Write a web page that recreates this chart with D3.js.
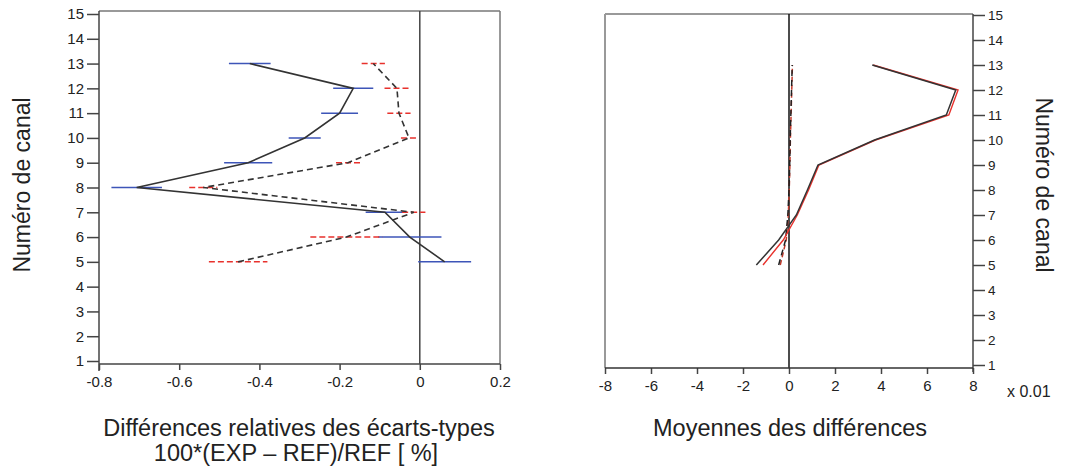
<!DOCTYPE html>
<html><head><meta charset="utf-8">
<script src="https://cdn.jsdelivr.net/npm/d3@7"></script>
<style>body{margin:0;background:#fff}svg{display:block}text{font-family:"Liberation Sans",Arial,sans-serif;fill:#222}</style>
</head><body><svg id="c" width="1065" height="473"></svg>
<script>
// ---- data ----
const channels = [5,6,7,8,9,10,11,12,13];
// left panel: relative differences of std devs (%)
const sdSolid   = [0.062,-0.025,-0.087,-0.706,-0.428,-0.287,-0.200,-0.166,-0.424];
const sdSolidErr= [0.066, 0.079, 0.048, 0.063, 0.060, 0.040, 0.046, 0.050, 0.052];
const sdDash    = [-0.453,-0.183,-0.015,-0.540,-0.179,-0.027,-0.052,-0.057,-0.116];
const sdDashErr = [0.073, 0.090, 0.029, 0.035, 0.030, 0.020, 0.029, 0.031, 0.029];
// right panel: mean differences (x 0.01)
const meanBlack    = [-1.42,-0.45,0.32,0.80,1.26,3.72,6.84,7.25,3.62];
const meanRed      = [-1.13,-0.25,0.36,0.85,1.30,3.76,6.95,7.35,3.66];
const meanBlackDash= [-0.45,-0.15,-0.05,0.00,0.03,0.05,0.08,0.11,0.14];
const meanRedDash  = [-0.38,-0.12,-0.03,0.01,0.04,0.06,0.09,0.12,0.15];
const yTicks = d3.range(1,16);
const leftXTicks = [-0.8,-0.6,-0.4,-0.2,0,0.2];
const rightXTicks = [-8,-6,-4,-2,0,2,4,6,8];

const svg = d3.select("#c");
const BLUE="#3d55b8", RED="#e8312c", DARK="#333";
const hy = f => d => f(d).replace("\u2212","-");

// ---------- LEFT PANEL ----------
const xL = d3.scaleLinear().domain([-0.8,0.2]).range([99,500]);
const yL = d3.scaleLinear().domain([1,15]).range([361,14]);
const L = svg.append("g");
L.append("line").attr("x1",99).attr("x2",500).attr("y1",11).attr("y2",11).attr("stroke","#777").attr("stroke-width",1.5);
L.append("line").attr("x1",500).attr("x2",500).attr("y1",11).attr("y2",364).attr("stroke","#777").attr("stroke-width",1.5);
L.append("line").attr("x1",xL(0)).attr("x2",xL(0)).attr("y1",11).attr("y2",364).attr("stroke","#444").attr("stroke-width",1.5);
const yAxL = d3.axisLeft(yL).tickValues(yTicks).tickSize(12).tickPadding(3).tickFormat(d3.format("d"));
const gyL = L.append("g").attr("transform","translate(99,0)").call(yAxL);
gyL.select(".domain").remove();
gyL.append("line").attr("x1",0).attr("x2",0).attr("y1",11).attr("y2",371).attr("stroke","#444").attr("stroke-width",1.5);
gyL.selectAll(".tick line").attr("stroke","#444").attr("stroke-width",1.5);
gyL.selectAll(".tick text").style("font-size","15px").attr("fill","#333");
const xAxL = d3.axisBottom(xL).tickValues(leftXTicks).tickSize(6).tickPadding(6).tickFormat(hy(d=>d===0?"0":d3.format(".1f")(d)));
const gxL = L.append("g").attr("transform","translate(0,364)").call(xAxL);
gxL.select(".domain").remove();
gxL.append("line").attr("x1",99).attr("x2",500).attr("stroke","#444").attr("stroke-width",1.5);
gxL.selectAll(".tick line").attr("stroke","#444").attr("stroke-width",1.5);
gxL.selectAll(".tick text").style("font-size","15px").attr("fill","#333");

const lineL = (vals)=>d3.line().x((d,i)=>xL(vals[i])).y(d=>yL(d))(channels);
L.selectAll(".eb1").data(channels).enter().append("line")
  .attr("x1",(d,i)=>xL(sdSolid[i]-sdSolidErr[i])).attr("x2",(d,i)=>xL(sdSolid[i]+sdSolidErr[i]))
  .attr("y1",d=>yL(d)).attr("y2",d=>yL(d)).attr("stroke",BLUE).attr("stroke-width",1.5);
L.selectAll(".eb2").data(channels).enter().append("line")
  .attr("x1",(d,i)=>xL(sdDash[i]-sdDashErr[i])).attr("x2",(d,i)=>xL(sdDash[i]+sdDashErr[i]))
  .attr("y1",d=>yL(d)).attr("y2",d=>yL(d)).attr("stroke",RED).attr("stroke-width",1.5).attr("stroke-dasharray","6,3");
L.append("path").attr("d",lineL(sdSolid)).attr("fill","none").attr("stroke",DARK).attr("stroke-width",1.6);
L.append("path").attr("d",lineL(sdDash)).attr("fill","none").attr("stroke",DARK).attr("stroke-width",1.6).attr("stroke-dasharray","6,4");

svg.append("text").attr("transform","translate(30,185) rotate(-90)").attr("text-anchor","middle").style("font-size","23px").text("Numéro de canal");
svg.append("text").attr("x",299).attr("y",436).attr("text-anchor","middle").style("font-size","23.5px").text("Différences relatives des écarts-types");
svg.append("text").attr("x",296).attr("y",461).attr("text-anchor","middle").style("font-size","23.5px").text("100*(EXP – REF)/REF [ %]");

// ---------- RIGHT PANEL ----------
const xR = d3.scaleLinear().domain([-8,8]).range([605,973]);
const yR = d3.scaleLinear().domain([1,15]).range([365,15]);
const R = svg.append("g");
R.append("line").attr("x1",605).attr("x2",973).attr("y1",14).attr("y2",14).attr("stroke","#999").attr("stroke-width",2);
R.append("line").attr("x1",605).attr("x2",605).attr("y1",14).attr("y2",368).attr("stroke","#999").attr("stroke-width",2);
R.append("line").attr("x1",xR(0)).attr("x2",xR(0)).attr("y1",14).attr("y2",368).attr("stroke","#111").attr("stroke-width",1.5);
const yAxR = d3.axisRight(yR).tickValues(yTicks).tickSize(12).tickPadding(3).tickFormat(d3.format("d"));
const gyR = R.append("g").attr("transform","translate(973,0)").call(yAxR);
gyR.select(".domain").remove();
gyR.append("line").attr("x1",0).attr("x2",0).attr("y1",14).attr("y2",372).attr("stroke","#444").attr("stroke-width",1.5);
gyR.selectAll(".tick line").attr("stroke","#444").attr("stroke-width",1.5);
gyR.selectAll(".tick text").style("font-size","13.5px").attr("fill","#333");
const xAxR = d3.axisBottom(xR).tickValues(rightXTicks).tickSize(6).tickPadding(6).tickFormat(hy(d3.format("d")));
const gxR = R.append("g").attr("transform","translate(0,368)").call(xAxR);
gxR.select(".domain").remove();
gxR.append("line").attr("x1",605).attr("x2",973).attr("stroke","#333").attr("stroke-width",1.5);
gxR.selectAll(".tick line").attr("stroke","#444").attr("stroke-width",1.5);
gxR.selectAll(".tick text").style("font-size","15px").attr("fill","#333");
svg.append("text").attr("x",1007).attr("y",397).style("font-size","16px").attr("fill","#333").text("x 0.01");

const lineR = (vals)=>d3.line().x((d,i)=>xR(vals[i])).y(d=>yR(d))(channels);
R.append("path").attr("d",lineR(meanRedDash)).attr("fill","none").attr("stroke","#c0392b").attr("stroke-width",1.5).attr("stroke-dasharray","5,3");
R.append("path").attr("d",lineR(meanBlackDash)).attr("fill","none").attr("stroke","#222").attr("stroke-width",1.5).attr("stroke-dasharray","6,4");
R.append("path").attr("d",lineR(meanRed)).attr("fill","none").attr("stroke",RED).attr("stroke-width",1.4);
R.append("path").attr("d",lineR(meanBlack)).attr("fill","none").attr("stroke",DARK).attr("stroke-width",1.5);

svg.append("text").attr("transform","translate(1036,185) rotate(90)").attr("text-anchor","middle").style("font-size","23px").text("Numéro de canal");
svg.append("text").attr("x",790).attr("y",436).attr("text-anchor","middle").style("font-size","23.5px").text("Moyennes des différences");
</script></body></html>
